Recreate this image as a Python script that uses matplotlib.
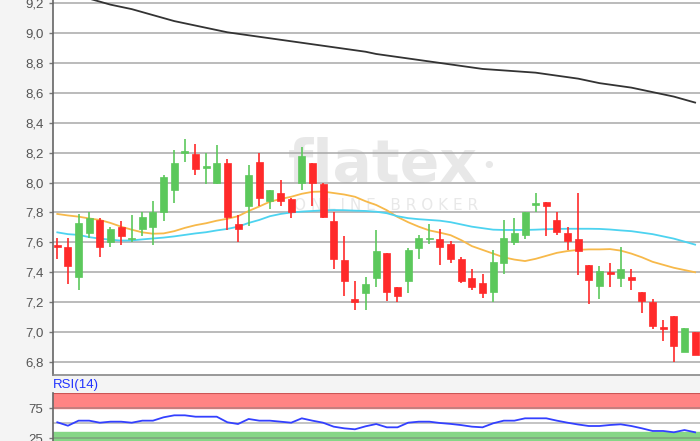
import matplotlib
matplotlib.use("Agg")
import matplotlib.pyplot as plt
from matplotlib.ticker import FuncFormatter
import numpy as np

# candle data
opens  = [7.58, 7.57, 7.37, 7.66, 7.75, 7.60, 7.70, 7.62, 7.69, 7.70,
          7.80, 7.95, 8.20, 8.19, 8.10, 8.00, 8.13, 7.72, 7.84, 8.14,
          7.88, 7.93, 7.89, 8.00, 8.13, 7.99, 7.74, 7.48, 7.22, 7.26,
          7.36, 7.53, 7.30, 7.34, 7.56, 7.62, 7.62, 7.59, 7.49, 7.36,
          7.33, 7.27, 7.46, 7.60, 7.65, 7.85, 7.87, 7.75, 7.66, 7.62,
          7.45, 7.31, 7.40, 7.36, 7.37, 7.27, 7.20, 7.03, 7.11, 6.87, 7.00]
highs  = [7.63, 7.63, 7.79, 7.80, 7.76, 7.70, 7.74, 7.78, 7.80, 7.88,
          8.05, 8.22, 8.29, 8.26, 8.20, 8.25, 8.16, 7.78, 8.12, 8.20,
          7.95, 8.02, 7.90, 8.24, 8.13, 8.00, 7.80, 7.64, 7.34, 7.37,
          7.68, 7.53, 7.30, 7.56, 7.65, 7.72, 7.69, 7.61, 7.50, 7.42,
          7.39, 7.55, 7.75, 7.76, 7.80, 7.93, 7.87, 7.80, 7.70, 7.93,
          7.45, 7.44, 7.46, 7.57, 7.42, 7.27, 7.22, 7.08, 7.11, 7.03, 7.00]
lows   = [7.49, 7.32, 7.28, 7.63, 7.50, 7.57, 7.58, 7.60, 7.64, 7.58,
          7.74, 7.86, 8.14, 8.05, 7.99, 7.99, 7.68, 7.60, 7.71, 7.84,
          7.82, 7.84, 7.76, 7.95, 7.84, 7.76, 7.42, 7.24, 7.15, 7.15,
          7.30, 7.21, 7.20, 7.26, 7.49, 7.59, 7.45, 7.46, 7.33, 7.28,
          7.23, 7.20, 7.39, 7.58, 7.62, 7.80, 7.64, 7.65, 7.55, 7.38,
          7.19, 7.22, 7.30, 7.30, 7.28, 7.13, 7.02, 6.94, 6.80, 6.87, 6.85]
closes = [7.57, 7.44, 7.73, 7.76, 7.57, 7.69, 7.64, 7.63, 7.77, 7.80,
          8.04, 8.13, 8.21, 8.09, 8.11, 8.13, 7.77, 7.69, 8.05, 7.90,
          7.95, 7.88, 7.80, 8.18, 8.00, 7.77, 7.49, 7.34, 7.20, 7.32,
          7.54, 7.27, 7.24, 7.55, 7.63, 7.63, 7.57, 7.49, 7.34, 7.30,
          7.26, 7.47, 7.63, 7.66, 7.80, 7.86, 7.84, 7.67, 7.61, 7.54,
          7.35, 7.41, 7.39, 7.42, 7.35, 7.21, 7.04, 7.02, 6.91, 7.03, 6.85]

# moving averages
ma_long = [9.28, 9.26, 9.25, 9.23, 9.21, 9.19, 9.175, 9.16, 9.14, 9.12,
           9.10, 9.08, 9.065, 9.05, 9.035, 9.02, 9.005, 8.995, 8.985, 8.975,
           8.965, 8.955, 8.945, 8.935, 8.925, 8.915, 8.905, 8.895, 8.885, 8.875,
           8.86, 8.85, 8.84, 8.83, 8.82, 8.81, 8.80, 8.79, 8.78, 8.77,
           8.76, 8.755, 8.75, 8.745, 8.74, 8.735, 8.725, 8.715, 8.705, 8.695,
           8.68, 8.665, 8.655, 8.645, 8.635, 8.62, 8.605, 8.59, 8.575, 8.555, 8.535]
ma_orange = [7.79, 7.78, 7.772, 7.76, 7.75, 7.73, 7.705, 7.685, 7.667, 7.658,
             7.66, 7.675, 7.697, 7.715, 7.728, 7.745, 7.758, 7.775, 7.81, 7.84,
             7.872, 7.89, 7.905, 7.925, 7.938, 7.94, 7.93, 7.92, 7.905, 7.875,
             7.85, 7.815, 7.77, 7.735, 7.705, 7.68, 7.665, 7.648, 7.615, 7.575,
             7.55, 7.525, 7.50, 7.485, 7.475, 7.49, 7.51, 7.53, 7.542, 7.55,
             7.553, 7.553, 7.555, 7.545, 7.525, 7.50, 7.47, 7.45, 7.43, 7.415, 7.40]
ma_cyan = [7.667, 7.655, 7.65, 7.635, 7.625, 7.618, 7.612, 7.613, 7.62, 7.626,
           7.632, 7.64, 7.65, 7.66, 7.668, 7.68, 7.69, 7.705, 7.73, 7.75,
           7.775, 7.79, 7.80, 7.806, 7.81, 7.814, 7.816, 7.815, 7.812, 7.81,
           7.805, 7.795, 7.775, 7.762, 7.755, 7.75, 7.745, 7.735, 7.72, 7.705,
           7.695, 7.685, 7.683, 7.683, 7.683, 7.685, 7.688, 7.69, 7.691, 7.691,
           7.691, 7.69, 7.686, 7.68, 7.675, 7.665, 7.655, 7.64, 7.625, 7.605, 7.585]

rsi = [51.7, 46, 54.4, 54.4, 51, 52.7, 52.7, 51, 54.4, 54.4,
       60, 63.3, 63.3, 61, 61, 61, 51.7, 48.8, 57.2, 54.4,
       54.4, 52.7, 51, 58.3, 54.4, 51, 44.4, 41.6, 40, 45,
       48.8, 43.3, 43.3, 51, 52.7, 52.7, 50.5, 49, 47, 44.4,
       43.3, 50, 54.4, 54.4, 58.3, 58.3, 58.3, 54.4, 51, 48,
       45.5, 45.5, 47.2, 48.3, 45.5, 41.6, 37.2, 37.2, 35, 38.8, 35]

price_ticks = [6.8, 7.0, 7.2, 7.4, 7.6, 7.8, 8.0, 8.2, 8.4, 8.6, 8.8, 9.0, 9.2]

plt.rcParams['font.family'] = ['Liberation Sans', 'DejaVu Sans']

W, H = 700, 441
fig = plt.figure(figsize=(W / 100, H / 100), dpi=100)
fig.patch.set_facecolor('#f4f4f4')

x = np.arange(len(opens))
xmin, xmax = -0.405, 60.46

# ---- main price panel
ax = fig.add_axes([53 / W, (H - 375) / H, (W - 53) / W, 375 / H])
ax.set_facecolor('white')
ax.set_xlim(xmin, xmax)
ax.set_ylim(6.713, 9.221)
ax.set_yticks(price_ticks)
ax.yaxis.set_major_formatter(FuncFormatter(lambda v, p: f"{v:.1f}".replace('.', ',')))
ax.grid(axis='y', color='#a8a8a8', linewidth=1.1)
ax.set_axisbelow(True)
ax.set_xticks([])
ax.tick_params(axis='y', colors='#777777', labelcolor='#555555', labelsize=9.5,
               length=3, width=1, pad=4)
for s in ['top', 'right']:
    ax.spines[s].set_visible(False)
ax.spines['left'].set_color('#666666')
ax.spines['bottom'].set_color('#888888')
ax.spines['left'].set_linewidth(1.2)
ax.spines['bottom'].set_linewidth(1.2)

# watermark (pixel positions, measured from the top)
wm = '#e8e8e8'
ax.text(383, H - 182, 'flatex', transform=None, fontsize=42, fontweight='bold',
        family='DejaVu Sans', color=wm, ha='center', va='baseline', zorder=0.5)
ax.text(489, H - 167, '\u2022', transform=None, fontsize=18, family='DejaVu Sans',
        color=wm, ha='center', va='center', zorder=0.5)
ax.text(386, H - 205, 'O N L I N E   B R O K E R', transform=None, fontsize=11,
        family='DejaVu Sans', color=wm, ha='center', va='center', zorder=0.5)

ax.plot(x, ma_long, color='#333333', linewidth=1.3, zorder=3)
ax.plot(x, ma_orange, color='#f7b94a', linewidth=1.3, zorder=3)
ax.plot(x, ma_cyan, color='#4dd3f0', linewidth=1.3, zorder=3)

o = np.array(opens)
c = np.array(closes)
up = c >= o
cols = np.where(up, '#5cc85c', '#ff2a2a')
ax.vlines(x, lows, highs, colors=cols, linewidth=1.2, zorder=4)
bottoms = np.minimum(o, c)
heights = np.maximum(np.abs(c - o), 0.012)
ax.bar(x, heights, bottom=bottoms, width=0.66, color=cols, edgecolor=cols,
       linewidth=0.5, zorder=5)

fig.text(53 / W, (H - 385) / H, 'RSI(14)', color='#2233ff', fontsize=9.5,
         ha='left', va='center')

# ---- RSI panel
top_px = 392.7
h_px = 101 * 0.6
ax2 = fig.add_axes([53 / W, (H - top_px - h_px) / H, (W - 53) / W, h_px / H])
ax2.set_facecolor('white')
ax2.set_xlim(xmin, xmax)
ax2.set_ylim(0, 101)
ax2.axhspan(75, 101, color='#ff8484', zorder=0)
ax2.axhspan(0, 35, color='#86d686', zorder=0)
for lvl in [25, 50, 75]:
    ax2.axhline(lvl, color='#777777', linewidth=1.1, alpha=0.55, zorder=1)
ax2.axhline(100.3, color='#cc5555', linewidth=1.5, zorder=1)
ax2.plot(x, rsi, color='#3340ff', linewidth=1.3, zorder=3)
ax2.set_xticks([])
ax2.set_yticks([25, 75])
ax2.tick_params(axis='y', colors='#777777', labelcolor='#555555', labelsize=9.5,
                length=3, width=1, pad=4)
for s in ['top', 'right', 'bottom']:
    ax2.spines[s].set_visible(False)
ax2.spines['left'].set_color('#666666')
ax2.spines['left'].set_linewidth(1.2)

fig.savefig('out.png', dpi=100, facecolor=fig.get_facecolor())
